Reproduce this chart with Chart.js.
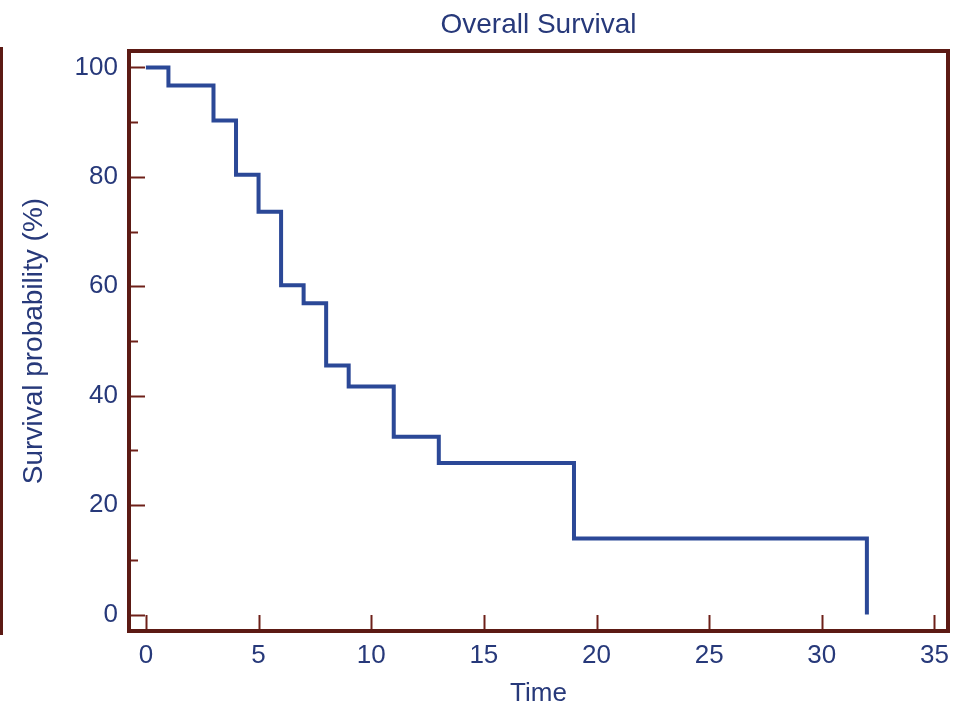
<!DOCTYPE html>
<html>
<head>
<meta charset="utf-8">
<script src="https://cdn.jsdelivr.net/npm/chart.js@4"></script>
<style>
  html, body { margin: 0; padding: 0; background: #ffffff; }
  #wrap { width: 965px; height: 709px; }
</style>
</head>
<body>
<div id="wrap"><canvas id="survivalChart" width="965" height="709"></canvas></div>
<script>
// Kaplan-Meier curve, values
const times =    [0, 1, 3, 4, 5, 6, 7, 8, 9, 11, 13, 19, 32];
const survival = [100, 96.7, 90.3, 80.4, 73.6, 60.2, 56.9, 45.5, 41.7, 32.5, 27.7, 13.9, 0];

const xTicks = [0, 5, 10, 15, 20, 25, 30, 35];
const yTicks = [0, 10, 20, 30, 40, 50, 60, 70, 80, 90, 100];
const yLabelled = [0, 20, 40, 60, 80, 100];

const frameColor = '#5c1a14';
const tickColor = '#6e2019';
const lineColor = '#2b4897';
const textColor = '#27397a';
const fontFamily = '"Liberation Sans", Arial, Helvetica, sans-serif';

// frame, inner tick marks and the stray left edge bar
const framePlugin = {
    id: 'frame',
    afterDraw(chart) {
        const ctx = chart.ctx;
        const a = chart.chartArea;
        const xs = chart.scales.x;
        const ys = chart.scales.y;
        ctx.save();

        // tick marks drawn inward
        ctx.strokeStyle = tickColor;
        ctx.lineWidth = 2;
        ys.ticks.forEach(function(t) {
            const py = Math.round(ys.getPixelForValue(t.value)) + 0.5;
            const len = yLabelled.includes(t.value) ? 16 : 9;
            ctx.beginPath();
            ctx.moveTo(a.left, py);
            ctx.lineTo(a.left + len, py);
            ctx.stroke();
        });
        xs.ticks.forEach(function(t) {
            const px = Math.round(xs.getPixelForValue(t.value)) + 0.5;
            ctx.beginPath();
            ctx.moveTo(px, a.bottom);
            ctx.lineTo(px, a.bottom - 16);
            ctx.stroke();
        });

        // box
        ctx.strokeStyle = frameColor;
        ctx.lineWidth = 4;
        ctx.lineJoin = 'miter';
        ctx.strokeRect(a.left, a.top, a.right - a.left, a.bottom - a.top);

        // left edge bar
        ctx.fillStyle = frameColor;
        ctx.fillRect(0, a.top - 4, 3, a.bottom - a.top + 8);
        ctx.restore();
    }
};

new Chart(document.getElementById('survivalChart'), {
    type: 'line',
    data: {
        datasets: [{
            label: 'Overall Survival',
            data: times.map(function(t, i) { return { x: t, y: survival[i] }; }),
            stepped: 'before',
            borderColor: lineColor,
            borderWidth: 4,
            borderJoinStyle: 'miter',
            pointRadius: 0,
            fill: false,
            clip: false
        }]
    },
    options: {
        responsive: false,
        animation: false,
        layout: { padding: { left: 0, right: 17, top: 0, bottom: 0 } },
        plugins: {
            legend: { display: false },
            tooltip: { enabled: false },
            title: {
                display: true,
                fullSize: false,
                text: 'Overall Survival',
                color: textColor,
                font: { family: fontFamily, size: 28, weight: 'normal' },
                padding: { top: 8, bottom: 9.4 }
            }
        },
        scales: {
            x: {
                type: 'linear',
                min: -0.75,
                max: 35.6,
                afterBuildTicks: function(s) { s.ticks = xTicks.map(function(v) { return { value: v }; }); },
                afterFit: function(s) { s.height = 78; },
                grid: { display: false, drawTicks: false, tickLength: 0 },
                border: { display: false },
                ticks: {
                    color: textColor,
                    padding: 9,
                    maxRotation: 0,
                    font: { family: fontFamily, size: 26 }
                },
                title: {
                    display: true,
                    text: 'Time',
                    color: textColor,
                    padding: { top: 0, bottom: 0 },
                    font: { family: fontFamily, size: 26 }
                }
            },
            y: {
                type: 'linear',
                min: -3,
                max: 103,
                afterBuildTicks: function(s) { s.ticks = yTicks.map(function(v) { return { value: v }; }); },
                afterFit: function(s) { s.width = 129; },
                grid: { display: false, drawTicks: false, tickLength: 0 },
                border: { display: false },
                ticks: {
                    color: textColor,
                    padding: 11,
                    font: { family: fontFamily, size: 26 },
                    callback: function(v) { return yLabelled.includes(v) ? String(v) : ''; }
                },
                title: {
                    display: true,
                    text: 'Survival probability (%)',
                    color: textColor,
                    padding: { top: 17, bottom: 0 },
                    font: { family: fontFamily, size: 28 }
                }
            }
        }
    },
    plugins: [framePlugin]
});
</script>
</body>
</html>
